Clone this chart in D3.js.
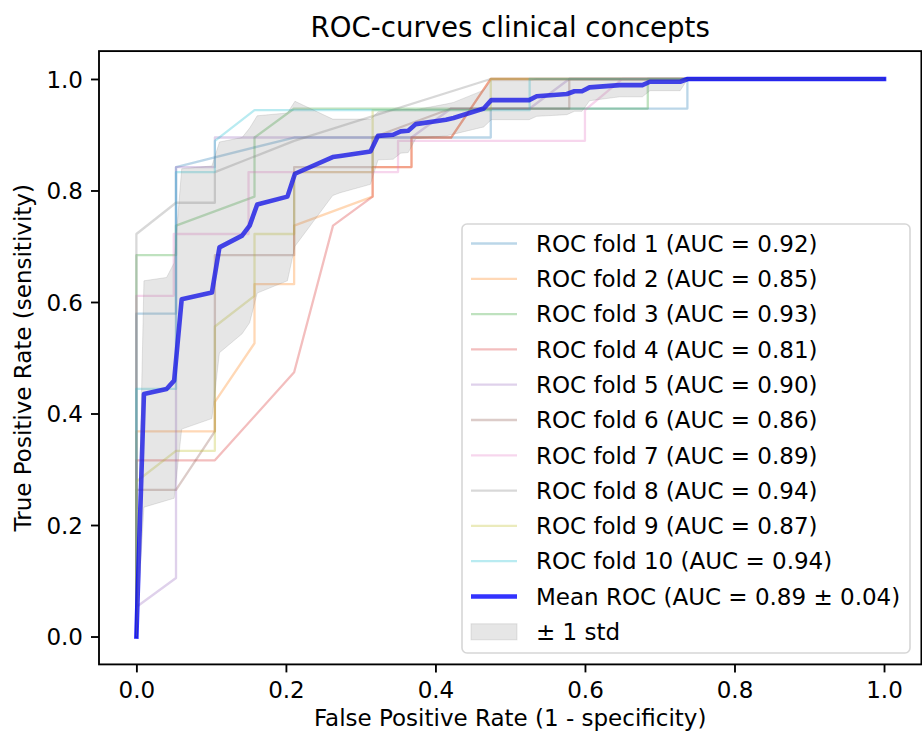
<!DOCTYPE html>
<html><head><meta charset="utf-8">
<script src="https://cdn.jsdelivr.net/npm/d3@7/dist/d3.min.js"></script>
<style>body{margin:0;background:#fff}</style>
</head><body>
<svg id="chart" width="922" height="742"></svg>
<script>
// ---- data ----
const fold1Fpr = [0, 0, 0.053, 0.053, 0.211, 0.474, 0.474, 0.737, 0.737, 1];
const fold1Tpr = [0, 0.579, 0.579, 0.842, 0.895, 0.895, 0.947, 0.947, 1, 1];
const fold2Fpr = [0, 0, 0.105, 0.105, 0.158, 0.158, 0.211, 0.211, 0.316, 0.316, 0.368, 0.368, 0.421, 0.474, 1];
const fold2Tpr = [0, 0.368, 0.368, 0.421, 0.526, 0.632, 0.632, 0.737, 0.789, 0.842, 0.842, 0.895, 0.895, 1, 1];
const fold3Fpr = [0, 0, 0.053, 0.053, 0.158, 0.158, 0.211, 0.684, 0.684, 1];
const fold3Tpr = [0, 0.684, 0.684, 0.737, 0.789, 0.895, 0.947, 0.947, 1, 1];
const fold4Fpr = [0, 0, 0.105, 0.211, 0.263, 0.316, 0.316, 0.368, 0.368, 0.421, 0.474, 1];
const fold4Tpr = [0, 0.316, 0.316, 0.474, 0.737, 0.789, 0.842, 0.842, 0.895, 0.895, 1, 1];
const fold5Fpr = [0, 0, 0.053, 0.053, 0.105, 0.105, 0.368, 0.421, 0.526, 0.579, 1];
const fold5Tpr = [0, 0.053, 0.105, 0.842, 0.842, 0.895, 0.895, 0.947, 0.947, 1, 1];
const fold6Fpr = [0, 0, 0.053, 0.105, 0.105, 0.211, 0.211, 0.316, 0.316, 0.421, 0.579, 0.579, 1];
const fold6Tpr = [0, 0.263, 0.263, 0.368, 0.684, 0.684, 0.842, 0.842, 0.895, 0.947, 0.947, 1, 1];
const fold7Fpr = [0, 0, 0.05, 0.05, 0.15, 0.15, 0.35, 0.35, 0.6, 0.6, 0.65, 1];
const fold7Tpr = [0, 0.611, 0.611, 0.722, 0.722, 0.833, 0.833, 0.889, 0.889, 0.944, 1, 1];
const fold8Fpr = [0, 0, 0.053, 0.105, 0.105, 0.211, 0.474, 1];
const fold8Tpr = [0, 0.722, 0.778, 0.778, 0.833, 0.889, 1, 1];
const fold9Fpr = [0, 0, 0.053, 0.105, 0.105, 0.158, 0.158, 0.211, 0.211, 0.316, 0.316, 0.474, 0.474, 1];
const fold9Tpr = [0, 0.278, 0.333, 0.333, 0.556, 0.611, 0.722, 0.722, 0.833, 0.833, 0.944, 0.944, 1, 1];
const fold10Fpr = [0, 0, 0.053, 0.053, 0.105, 0.105, 0.158, 0.526, 0.526, 1];
const fold10Tpr = [0, 0.444, 0.444, 0.833, 0.833, 0.889, 0.944, 0.944, 1, 1];

const foldAuc = ["0.92", "0.85", "0.93", "0.81", "0.90", "0.86", "0.89", "0.94", "0.87", "0.94"];

const meanFpr = [0, 0.0101, 0.0404, 0.0505, 0.0606, 0.1010, 0.1111, 0.1414, 0.1515, 0.1616, 0.2020, 0.2121,
  0.2626, 0.2727, 0.3131, 0.3232, 0.3434, 0.3535, 0.3636, 0.3737, 0.4141, 0.4242, 0.4646, 0.4747, 0.5253,
  0.5354, 0.5758, 0.5859, 0.5960, 0.6061, 0.6465, 0.6566, 0.6768, 0.6869, 0.7273, 0.7374, 1.0];
const meanTpr = [0, 0.435, 0.444, 0.459, 0.605, 0.617, 0.698, 0.719, 0.737, 0.775, 0.789, 0.830,
  0.860, 0.862, 0.870, 0.898, 0.900, 0.906, 0.907, 0.919, 0.927, 0.930, 0.947, 0.962, 0.962,
  0.969, 0.973, 0.978, 0.978, 0.985, 0.989, 0.989, 0.989, 0.995, 0.995, 1, 1];
const bandUpper = [0, 0.638, 0.644, 0.670, 0.839, 0.844, 0.887, 0.895, 0.912, 0.934, 0.939, 0.960,
  0.928, 0.928, 0.928, 0.941, 0.944, 0.945, 0.946, 0.945, 0.955, 0.958, 0.980, 0.997, 0.997,
  1, 1, 1, 1, 1, 1, 1, 1, 1, 1, 1, 1];
const bandLower = [0, 0.232, 0.244, 0.248, 0.372, 0.391, 0.509, 0.543, 0.563, 0.616, 0.638, 0.700,
  0.791, 0.796, 0.811, 0.855, 0.856, 0.867, 0.868, 0.893, 0.898, 0.901, 0.914, 0.927, 0.927,
  0.933, 0.936, 0.942, 0.942, 0.961, 0.968, 0.968, 0.968, 0.979, 0.979, 1, 1];

const meanLabel = "Mean ROC (AUC = 0.89 \u00b1 0.04)";
const stdLabel = "\u00b1 1 std";
const xTickValues = [0, 0.2, 0.4, 0.6, 0.8, 1.0];
const yTickValues = [0, 0.2, 0.4, 0.6, 0.8, 1.0];
const titleText = "ROC-curves clinical concepts";
const xLabelText = "False Positive Rate (1 - specificity)";
const yLabelText = "True Positive Rate (sensitivity)";
const foldColors = ["#1f77b4", "#ff7f0e", "#2ca02c", "#d62728", "#9467bd", "#8c564b", "#e377c2", "#7f7f7f", "#bcbd22", "#17becf"];

// ---- drawing ----
const folds = [
  [fold1Fpr, fold1Tpr], [fold2Fpr, fold2Tpr], [fold3Fpr, fold3Tpr], [fold4Fpr, fold4Tpr], [fold5Fpr, fold5Tpr],
  [fold6Fpr, fold6Tpr], [fold7Fpr, fold7Tpr], [fold8Fpr, fold8Tpr], [fold9Fpr, fold9Tpr], [fold10Fpr, fold10Tpr]
];
const FONT = "DejaVu Sans, Verdana, sans-serif";
const svg = d3.select("#chart");
const L = 99, R = 921.4, T = 51.1, B = 664.4;
const x = d3.scaleLinear().domain([-0.05, 1.05]).range([L, R]);
const y = d3.scaleLinear().domain([-0.05, 1.05]).range([B, T]);

svg.append("defs").append("clipPath").attr("id", "clip")
  .append("rect").attr("x", L).attr("y", T).attr("width", R - L).attr("height", B - T);

const plot = svg.append("g").attr("clip-path", "url(#clip)");
const line = d3.line().x(d => x(d[0])).y(d => y(d[1]));

folds.forEach((f, i) => {
  plot.append("path").datum(d3.zip(f[0], f[1]))
    .attr("d", line).attr("fill", "none")
    .attr("stroke", foldColors[i]).attr("stroke-opacity", 0.3)
    .attr("stroke-width", 2.3).attr("stroke-linejoin", "round").attr("stroke-linecap", "square");
});

plot.append("path").datum(d3.zip(meanFpr, meanTpr))
  .attr("d", line).attr("fill", "none")
  .attr("stroke", "blue").attr("stroke-opacity", 0.8)
  .attr("stroke-width", 4.6).attr("stroke-linejoin", "round").attr("stroke-linecap", "square");

const area = d3.area().x(d => x(d[0])).y0(d => y(d[1])).y1(d => y(d[2]));
plot.append("path").datum(d3.zip(meanFpr, bandLower, bandUpper))
  .attr("d", area).attr("fill", "grey").attr("fill-opacity", 0.2)
  .attr("stroke", "grey").attr("stroke-opacity", 0.2).attr("stroke-width", 1);

// axes
const xAxis = d3.axisBottom(x).tickValues(xTickValues).tickFormat(d3.format(".1f")).tickSizeInner(8).tickSizeOuter(0).tickPadding(8);
const yAxis = d3.axisLeft(y).tickValues(yTickValues).tickFormat(d3.format(".1f")).tickSizeInner(8).tickSizeOuter(0).tickPadding(8);
const gx = svg.append("g").attr("transform", `translate(0,${B})`).call(xAxis);
const gy = svg.append("g").attr("transform", `translate(${L},0)`).call(yAxis);
[gx, gy].forEach(g => {
  g.select(".domain").remove();
  g.selectAll(".tick line").attr("stroke", "#000").attr("stroke-width", 1.85);
  g.selectAll(".tick text").attr("fill", "#000").attr("font-family", FONT).attr("font-size", 23);
});
gx.selectAll(".tick text").attr("dy", null).attr("y", 34);
gy.selectAll(".tick text").attr("dy", "0.36em");

svg.append("rect").attr("x", L).attr("y", T).attr("width", R - L).attr("height", B - T)
  .attr("fill", "none").attr("stroke", "#000").attr("stroke-width", 1.85);

svg.append("text").attr("x", (L + R) / 2).attr("y", 37).attr("text-anchor", "middle")
  .attr("font-family", FONT).attr("font-size", 27.6).attr("fill", "#000").text(titleText);
svg.append("text").attr("x", (L + R) / 2).attr("y", 726).attr("text-anchor", "middle")
  .attr("font-family", FONT).attr("font-size", 23).attr("fill", "#000").text(xLabelText);
svg.append("text").attr("transform", `translate(31,${(T + B) / 2}) rotate(-90)`).attr("text-anchor", "middle")
  .attr("font-family", FONT).attr("font-size", 23).attr("fill", "#000").text(yLabelText);

// legend
const legX = 462, legY = 224, legW = 448, legH = 429;
const lg = svg.append("g");
lg.append("rect").attr("x", legX).attr("y", legY).attr("width", legW).attr("height", legH)
  .attr("rx", 5).attr("fill", "#fff").attr("fill-opacity", 0.8)
  .attr("stroke", "#cccccc").attr("stroke-opacity", 0.8).attr("stroke-width", 1.6);
const rowY = k => 243.5 + k * 35.3;
const hx0 = 471, hx1 = 517, tx = 536;
foldAuc.forEach((a, i) => {
  lg.append("line").attr("x1", hx0).attr("x2", hx1).attr("y1", rowY(i)).attr("y2", rowY(i))
    .attr("stroke", foldColors[i]).attr("stroke-opacity", 0.3).attr("stroke-width", 2.3);
  lg.append("text").attr("x", tx).attr("y", rowY(i)).attr("dy", "0.36em")
    .attr("font-family", FONT).attr("font-size", 23).attr("fill", "#000")
    .text(`ROC fold ${i + 1} (AUC = ${a})`);
});
lg.append("line").attr("x1", hx0).attr("x2", hx1).attr("y1", rowY(10)).attr("y2", rowY(10))
  .attr("stroke", "blue").attr("stroke-opacity", 0.8).attr("stroke-width", 4.6);
lg.append("text").attr("x", tx).attr("y", rowY(10)).attr("dy", "0.36em")
  .attr("font-family", FONT).attr("font-size", 23).attr("fill", "#000").text(meanLabel);
lg.append("rect").attr("x", hx0).attr("y", rowY(11) - 8).attr("width", hx1 - hx0).attr("height", 16)
  .attr("fill", "grey").attr("fill-opacity", 0.2).attr("stroke", "grey").attr("stroke-opacity", 0.2);
lg.append("text").attr("x", tx).attr("y", rowY(11)).attr("dy", "0.36em")
  .attr("font-family", FONT).attr("font-size", 23).attr("fill", "#000").text(stdLabel);
</script>
</body></html>
